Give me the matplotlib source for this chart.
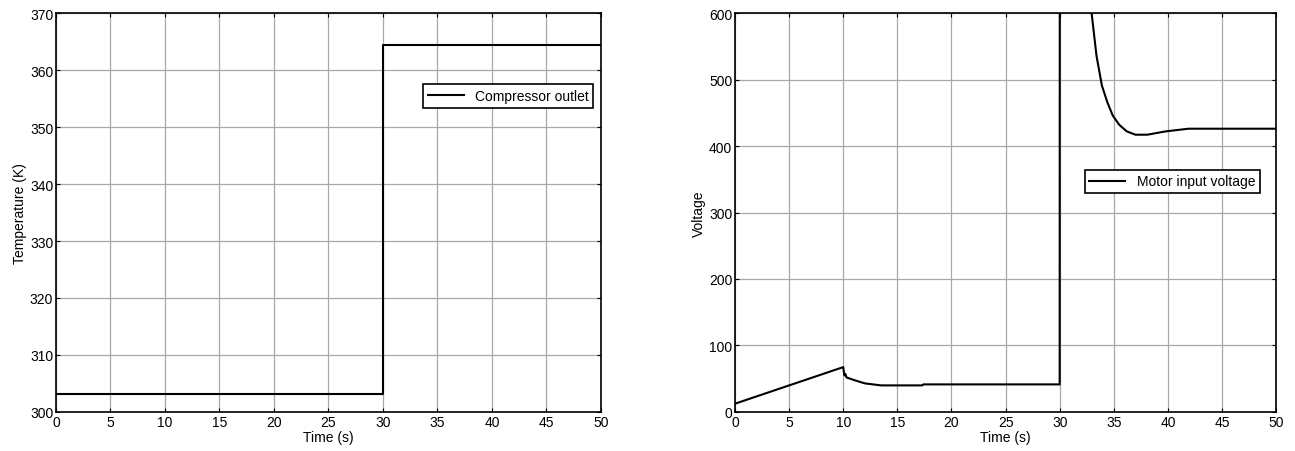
import matplotlib.pyplot as plt

plt.rcParams['font.family'] = ['Liberation Sans', 'DejaVu Sans']

# Compressor outlet temperature (K)
temp_time = [0, 30, 30, 50]
temp_vals = [303.2, 303.2, 364.4, 364.4]

# Motor input voltage (V)
volt_time = [0, 10.0, 10.1, 10.2, 10.3, 11.0, 12.0, 13.5, 17.3, 17.4, 30.0, 30.01,
             31.5, 32.95, 33.4, 33.9, 34.4, 34.9, 35.5, 36.2, 37.0, 38.1, 39.8, 41.9, 50]
volt_vals = [12.5, 67.5, 55, 57, 52, 48, 43, 40, 40, 41.5, 41.5, 900,
             700, 600, 536, 491, 466, 446, 432, 422, 417, 417, 422, 426, 426]

xticks = list(range(0, 51, 5))

fig = plt.figure(figsize=(12.95, 4.52), dpi=100)
ax1 = fig.add_axes([0.0432, 0.0863, 0.4208, 0.8827])
ax2 = fig.add_axes([0.5676, 0.0863, 0.4178, 0.8827])


def style(ax):
    ax.set_xlim(0, 50)
    ax.set_xticks(xticks)
    ax.tick_params(direction='in', top=True, right=True, labelsize=10, length=3, pad=2)
    ax.grid(True, linestyle='-', color='#a8a8a8', linewidth=0.9)
    for s in ax.spines.values():
        s.set_linewidth(1.2)
    ax.set_xlabel('Time (s)', fontsize=10, labelpad=1)


ax1.plot(temp_time, temp_vals, color='black', linewidth=1.5, label='Compressor outlet')
ax1.set_ylim(300, 370)
ax1.set_yticks(range(300, 371, 10))
ax1.set_ylabel('Temperature (K)', fontsize=10, labelpad=2)
style(ax1)
leg = ax1.legend(loc='upper right', bbox_to_anchor=(0.999, 0.84), fontsize=10, fancybox=False,
                 framealpha=1, edgecolor='black', handlelength=2.6, borderpad=0.35)
leg.get_frame().set_linewidth(1.2)

ax2.plot(volt_time, volt_vals, color='black', linewidth=1.5, label='Motor input voltage')
ax2.set_ylim(0, 600)
ax2.set_yticks(range(0, 601, 100))
ax2.set_ylabel('Voltage', fontsize=10, labelpad=2)
style(ax2)
leg = ax2.legend(loc='upper right', bbox_to_anchor=(0.983, 0.625), fontsize=10, fancybox=False,
                 framealpha=1, edgecolor='black', handlelength=2.6, borderpad=0.35)
leg.get_frame().set_linewidth(1.2)

fig.savefig('out.png', dpi=100)
